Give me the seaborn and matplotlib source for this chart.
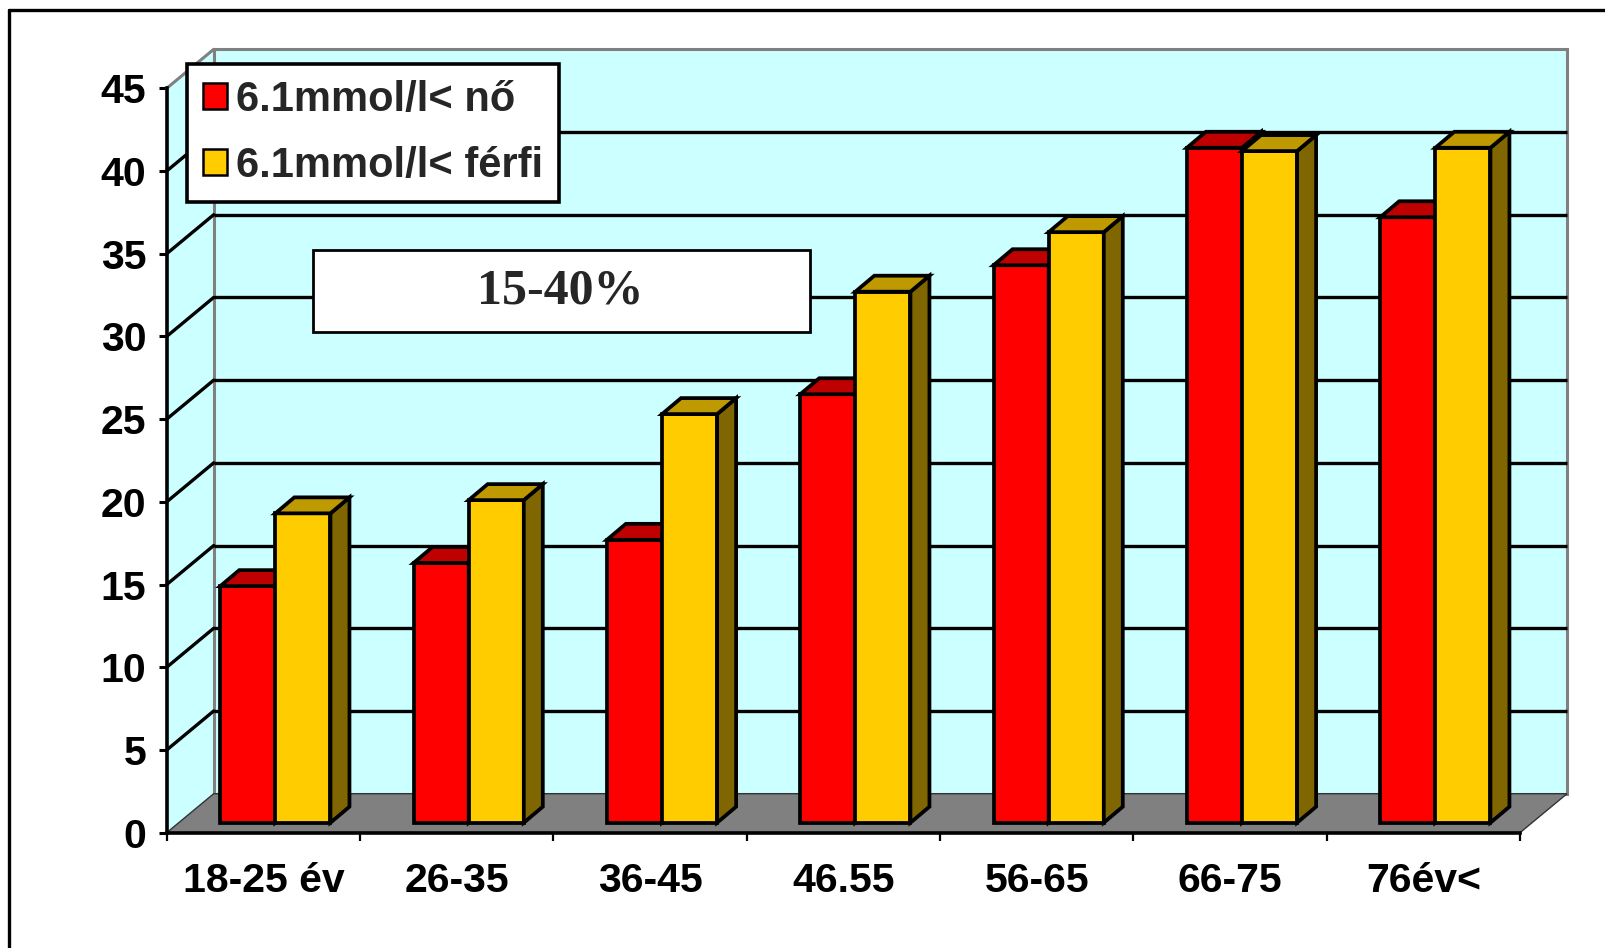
import numpy as np
import pandas as pd
import matplotlib
matplotlib.use("Agg")
import matplotlib.pyplot as plt
import seaborn as sns
from matplotlib.patches import Polygon, Rectangle, Patch
from matplotlib.lines import Line2D

# ---------------- data ----------------
categories = ["18-25 év", "26-35", "36-45", "46.55", "56-65", "66-75", "76év<"]
series = ["6.1mmol/l< nő", "6.1mmol/l< férfi"]
no_values = [14.3, 15.7, 17.1, 25.9, 33.7, 40.8, 36.6]
ferfi_values = [18.7, 19.5, 24.7, 32.1, 35.7, 40.6, 40.8]
y_ticks = [0, 5, 10, 15, 20, 25, 30, 35, 40, 45]
annotation = "15-40%"

# ---------------- style ----------------
RED = "#FF0000"
YEL = "#FFCC00"
WALL = "#CCFFFF"
FLOOR = "#808080"
EDGE_GRAY = "#808080"
BAR_LW = 2.7

sns.set_theme(style="white")
plt.rcParams["font.family"] = ["Liberation Sans", "DejaVu Sans"]
plt.rcParams["font.weight"] = "bold"

W, H = 1606, 948
fig = plt.figure(figsize=(W / 100, H / 100), dpi=100)
fig.patch.set_facecolor("white")

# front plane of the 3D box (pixel coords, from top-left)
px_left, px_right = 166.7, 1520.0
px_bottom, px_top = 832.7, 88.3
ax = fig.add_axes([px_left / W, (H - px_bottom) / H,
                   (px_right - px_left) / W, (px_bottom - px_top) / H])

df = pd.DataFrame({
    "age": categories * 2,
    "value": no_values + ferfi_values,
    "series": [series[0]] * len(categories) + [series[1]] * len(categories),
})

sns.barplot(data=df, x="age", y="value", hue="series", order=categories,
            hue_order=series, palette=[RED, YEL], width=0.57, saturation=1,
            edgecolor="black", linewidth=BAR_LW, errorbar=None, legend=False, ax=ax)
bars = [p for p in ax.patches if isinstance(p, Rectangle) and p.get_height() > 0]

ax.set_xlim(-0.5, len(categories) - 0.5)
ax.set_ylim(0, 45)
ax.patch.set_alpha(0)
ax.set_xlabel("")
ax.set_ylabel("")

# pixel -> data scale
p0 = ax.transData.transform((0, 0))
p1 = ax.transData.transform((1, 1))
sx = p1[0] - p0[0]
sy = p1[1] - p0[1]

def dpx(dx, dy):
    return dx / sx, dy / sy

dxw, dyw = dpx(47, 39)    # wall depth
dxf, dyf = dpx(12, 10)    # bar front plane offset
dxd, dyd = dpx(19, 16)    # bar depth

xl0, xr0 = -0.5, len(categories) - 0.5

# back wall
ax.add_patch(Rectangle((xl0 + dxw, dyw), xr0 - xl0, 45, facecolor=WALL,
                       edgecolor=EDGE_GRAY, linewidth=2.2, zorder=0.5, clip_on=False))
# left side wall
ax.add_patch(Polygon([(xl0, 0), (xl0, 45), (xl0 + dxw, 45 + dyw), (xl0 + dxw, dyw)],
                     closed=True, facecolor=WALL, edgecolor="none", zorder=0.45,
                     clip_on=False))
ax.plot([xl0, xl0 + dxw], [45, 45 + dyw], color=EDGE_GRAY, lw=2.2, zorder=0.55,
        clip_on=False)
# gridlines
for v in y_ticks[1:-1]:
    ax.plot([xl0 + dxw, xr0 + dxw], [v + dyw, v + dyw], color="black", lw=2.4,
            zorder=0.6, clip_on=False, solid_capstyle="butt")
    ax.plot([xl0, xl0 + dxw], [v, v + dyw], color="black", lw=2.4, zorder=0.6,
            clip_on=False)
# floor
ax.add_patch(Polygon([(xl0, 0), (xr0, 0), (xr0 + dxw, dyw), (xl0 + dxw, dyw)],
                     closed=True, facecolor=FLOOR, edgecolor="#333333", linewidth=1,
                     zorder=0.8, clip_on=False))

# 3D bars built from seaborn's bar patches
for b in bars:
    x, w, h = b.get_x(), b.get_width(), b.get_height()
    fc = np.array(b.get_facecolor()[:3])
    z = 3 if np.allclose(fc, matplotlib.colors.to_rgb(RED)) else 4
    xl = x + dxf
    xr = xl + w
    yb = dyf
    yt = dyf + h
    b.set_x(xl)
    b.set_y(yb)
    b.set_zorder(z)
    b.set_clip_on(False)
    b.set_joinstyle("miter")
    top = Polygon([(xl, yt), (xl + dxd, yt + dyd), (xr + dxd, yt + dyd), (xr, yt)],
                  closed=True, facecolor=fc * 0.75, edgecolor="black", linewidth=BAR_LW,
                  zorder=z, clip_on=False, joinstyle="miter")
    side = Polygon([(xr, yb), (xr, yt), (xr + dxd, yt + dyd), (xr + dxd, yb + dyd)],
                   closed=True, facecolor=fc * 0.5, edgecolor="black", linewidth=BAR_LW,
                   zorder=z, clip_on=False, joinstyle="miter")
    ax.add_patch(side)
    ax.add_patch(top)

# axes, ticks
for s in ["top", "right"]:
    ax.spines[s].set_visible(False)
for s in ["left", "bottom"]:
    ax.spines[s].set_color("black")
    ax.spines[s].set_linewidth(2.6)
    ax.spines[s].set_zorder(2.5)

ax.set_yticks(y_ticks)
ax.set_yticklabels([str(t) for t in y_ticks])
ax.set_xticks(range(len(categories)))
ax.set_xticklabels(categories)
ax.set_xticks(np.arange(-0.5, len(categories), 1.0), minor=True)
ax.tick_params(axis="y", which="major", left=True, direction="out", length=5.8,
               width=2.2, color="black", labelsize=29.5, pad=9, labelcolor="black")
ax.tick_params(axis="x", which="major", bottom=True, length=0, labelsize=29.5,
               pad=21, labelcolor="black")
ax.tick_params(axis="x", which="minor", bottom=True, direction="out", length=5.8,
               width=1.6, color="black")
for lab in ax.get_xticklabels() + ax.get_yticklabels():
    lab.set_fontweight("bold")
    lab.set_family(["Liberation Sans", "DejaVu Sans"])

# legend
handles = [Patch(facecolor=RED, edgecolor="black", linewidth=1.8, label=series[0]),
           Patch(facecolor=YEL, edgecolor="black", linewidth=1.8, label=series[1])]
leg = ax.legend(handles=handles, loc="upper left",
                bbox_to_anchor=(187.5 / W, 1 - 64 / H), bbox_transform=fig.transFigure,
                prop={"family": "Liberation Sans", "weight": "bold", "size": 30},
                frameon=True, fancybox=False, framealpha=1, edgecolor="black",
                borderpad=0.38, labelspacing=0.62, handlelength=0.58, handleheight=0.58,
                handletextpad=0.2, borderaxespad=0)
leg.get_frame().set_linewidth(2.6)
leg.set_zorder(10)

# annotation box
fig.add_artist(Rectangle((313.4 / W, 1 - 332 / H), (810 - 313.4) / W, (332 - 250) / H,
                         transform=fig.transFigure, facecolor="white",
                         edgecolor="black", linewidth=2.0, zorder=5))
fig.text(560 / W, 1 - 292 / H, annotation, family=["Liberation Serif", "DejaVu Serif"],
         weight="bold", size=36, ha="center", va="center", zorder=6)

# outer frame (top and left edges visible)
fig.add_artist(Line2D([9 / W, 1.0], [1 - 10 / H, 1 - 10 / H], transform=fig.transFigure,
                      color="black", lw=2.4, zorder=6))
fig.add_artist(Line2D([9 / W, 9 / W], [1 - 10 / H, 0.0], transform=fig.transFigure,
                      color="black", lw=2.4, zorder=6))

fig.savefig("out.png", dpi=100)
